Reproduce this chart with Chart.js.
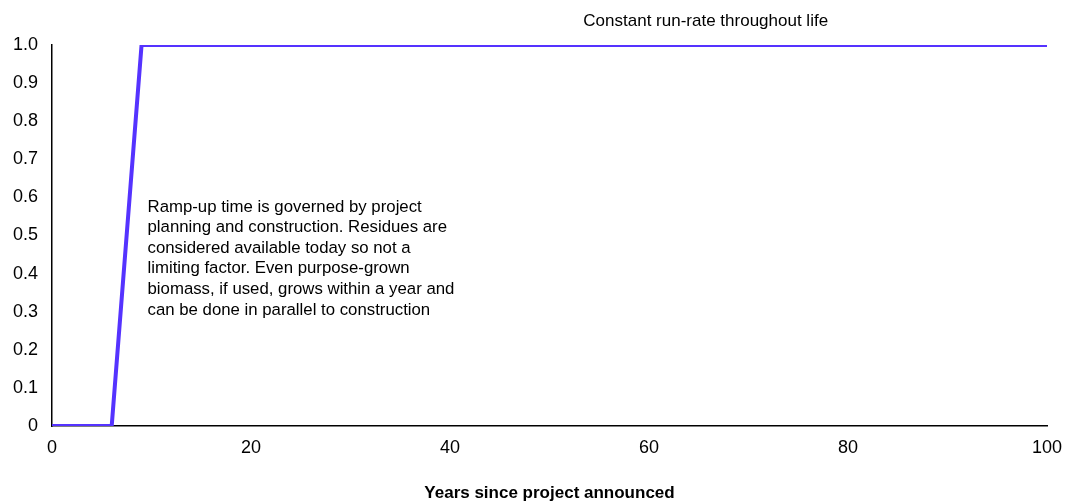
<!DOCTYPE html>
<html>
<head>
<meta charset="utf-8">
<script src="https://cdn.jsdelivr.net/npm/chart.js@4/dist/chart.umd.min.js"></script>
<style>
  html, body { margin: 0; padding: 0; background: #fff; }
  #wrap { width: 1065px; height: 502px; }
</style>
</head>
<body>
<div id="wrap"><canvas id="chart"></canvas></div>
<script>
// Years since announcement and relative run-rate
const years = [0, 6, 9, 100];
const runRate = [0, 0, 1, 1];
const xTicks = [0, 20, 40, 60, 80, 100];
const yTicks = [0, 0.1, 0.2, 0.3, 0.4, 0.5, 0.6, 0.7, 0.8, 0.9, 1.0];

const topNote = "Constant run-rate throughout life";
const rampNote = [
  "Ramp-up time is governed by project",
  "planning and construction. Residues are",
  "considered available today so not a",
  "limiting factor. Even purpose-grown",
  "biomass, if used, grows within a year and",
  "can be done in parallel to construction"
];

const FONT = "'Liberation Sans', Arial, sans-serif";

// Draw the two text notes on top of the chart
const notesPlugin = {
  id: "notes",
  afterDraw(chart) {
    const ctx = chart.ctx;
    const x = chart.scales.x, y = chart.scales.y;
    ctx.save();
    ctx.fillStyle = "#000";
    ctx.textBaseline = "middle";
    ctx.font = "17px " + FONT;
    ctx.textAlign = "center";
    ctx.fillText(topNote, x.getPixelForValue(65.7), chart.chartArea.top - 24);
    ctx.font = "16.8px " + FONT;
    ctx.textAlign = "left";
    const left = x.getPixelForValue(9.6);
    const top = y.getPixelForValue(0.575);
    rampNote.forEach((line, i) => ctx.fillText(line, left, top + i * 20.6));
    ctx.restore();
  }
};

new Chart(document.getElementById("chart"), {
  type: "line",
  plugins: [notesPlugin],
  data: {
    datasets: [{
      data: years.map((v, i) => ({ x: v, y: runRate[i] })),
      borderColor: "#5533ff",
      borderWidth: 4,
      pointRadius: 0,
      tension: 0,
      fill: false
    }]
  },
  options: {
    responsive: true,
    maintainAspectRatio: false,
    animation: false,
    layout: { padding: { left: 0, top: 45, right: 18, bottom: 0 } },
    plugins: { legend: { display: false }, tooltip: { enabled: false } },
    scales: {
      x: {
        type: "linear",
        min: 0,
        max: 100,
        afterBuildTicks: (s) => { s.ticks = xTicks.map(v => ({ value: v })); },
        afterFit: (s) => { s.height = 76; s.paddingLeft = 0; s.paddingRight = 0; },
        grid: { display: false, drawTicks: false },
        border: { display: true, color: "#000", width: 1.5 },
        ticks: { color: "#000", padding: 11, font: { family: FONT, size: 18 } },
        title: {
          display: true,
          text: "Years since project announced",
          color: "#000",
          font: { family: FONT, size: 17, weight: "bold", lineHeight: 1.0 },
          padding: { top: 20, bottom: 0 }
        }
      },
      y: {
        min: 0,
        max: 1,
        afterBuildTicks: (s) => { s.ticks = yTicks.map(v => ({ value: v })); },
        afterFit: (s) => { s.width = 52; },
        grid: { display: false, drawTicks: false },
        border: { display: true, color: "#000", width: 1.5 },
        ticks: {
          color: "#000",
          padding: 14,
          font: { family: FONT, size: 18 },
          callback: (v) => v === 0 ? "0" : v.toFixed(1)
        }
      }
    }
  }
});
</script>
</body>
</html>
